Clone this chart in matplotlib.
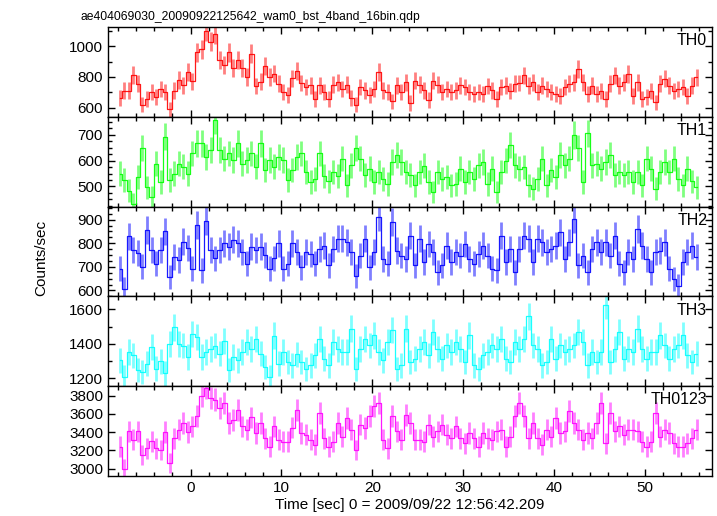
import numpy as np
import matplotlib
matplotlib.use('Agg')
import matplotlib.pyplot as plt
from matplotlib.ticker import MultipleLocator

plt.rcParams['font.family'] = ['Liberation Sans', 'DejaVu Sans']

# 0.5 s bins, first bin centred at -7.8 s
bin_width = 0.5
t_first = -7.8

th0 = [660, 711, 711, 811, 755, 620, 655, 700, 667, 722,
       700, 590, 711, 780, 744, 830, 770, 960, 980, 1100,
       1030, 1080, 910, 878, 960, 855, 910, 855, 800, 950,
       740, 767, 870, 800, 822, 755, 700, 680, 790, 840,
       760, 735, 745, 655, 745, 700, 655, 750, 765, 720,
       750, 665, 620, 735, 712, 680, 720, 830, 712, 700,
       640, 745, 700, 765, 630, 775, 750, 712, 650, 775,
       750, 700, 720, 700, 712, 745, 735, 700, 690, 700,
       690, 740, 712, 655, 735, 743, 710, 755, 760, 809,
       743, 765, 700, 743, 720, 700, 690, 678, 733, 755,
       765, 853, 765, 690, 743, 690, 710, 656, 755, 809,
       743, 765, 820, 678, 765, 656, 667, 710, 634, 755,
       787, 743, 710, 720, 733, 678, 743, 798]

th1 = [550, 524, 484, 432, 537, 648, 497, 458, 589, 517,
       693, 524, 550, 589, 576, 550, 628, 667, 667, 615,
       641, 759, 641, 608, 628, 602, 667, 589, 602, 628,
       576, 667, 563, 602, 576, 615, 602, 524, 563, 615,
       628, 556, 517, 530, 628, 540, 520, 556, 540, 608,
       504, 582, 648, 608, 543, 569, 517, 556, 530, 510,
       595, 621, 595, 556, 543, 504, 556, 580, 517, 478,
       556, 530, 537, 504, 510, 569, 517, 556, 530, 582,
       595, 510, 569, 478, 556, 600, 660, 582, 569, 575,
       504, 491, 530, 608, 504, 563, 537, 621, 582, 608,
       700, 648, 517, 706, 582, 589, 569, 595, 621, 543,
       556, 543, 556, 517, 556, 504, 608, 569, 491, 556,
       595, 556, 608, 530, 504, 569, 520, 497]

th2 = [693, 607, 829, 771, 757, 700, 857, 771, 714, 771,
       850, 657, 743, 729, 807, 779, 693, 879, 686, 893,
       771, 736, 771, 800, 786, 814, 800, 764, 714, 786,
       771, 786, 750, 693, 736, 800, 693, 714, 800, 764,
       699, 762, 755, 713, 776, 790, 706, 776, 818, 818,
       804, 762, 660, 748, 818, 699, 762, 910, 734, 713,
       889, 769, 748, 734, 832, 706, 818, 720, 797, 762,
       677, 706, 790, 720, 762, 748, 797, 734, 713, 755,
       790, 748, 692, 685, 832, 720, 776, 677, 776, 832,
       818, 720, 818, 804, 762, 776, 790, 846, 734, 804,
       903, 706, 748, 677, 776, 804, 762, 804, 748, 832,
       713, 677, 762, 734, 861, 790, 734, 677, 762, 769,
       804, 692, 649, 621, 720, 762, 790, 741]

th3 = [1305, 1210, 1352, 1333, 1248, 1238, 1286, 1381, 1257, 1300,
       1229, 1400, 1495, 1400, 1390, 1324, 1457, 1438, 1324, 1352,
       1371, 1390, 1343, 1419, 1248, 1324, 1305, 1352, 1410, 1371,
       1429, 1343, 1267, 1210, 1448, 1286, 1352, 1295, 1276, 1340,
       1295, 1256, 1275, 1333, 1430, 1314, 1275, 1411, 1372, 1353,
       1353, 1488, 1256, 1372, 1430, 1391, 1449, 1353, 1304, 1411,
       1480, 1256, 1275, 1488, 1295, 1314, 1372, 1411, 1333, 1469,
       1372, 1314, 1391, 1353, 1411, 1372, 1295, 1449, 1275, 1256,
       1333, 1353, 1391, 1372, 1430, 1314, 1295, 1410, 1372, 1430,
       1560, 1391, 1372, 1275, 1295, 1430, 1314, 1391, 1353, 1372,
       1391, 1469, 1411, 1275, 1353, 1295, 1353, 1623, 1295, 1372,
       1469, 1314, 1372, 1353, 1488, 1372, 1314, 1353, 1353, 1449,
       1391, 1314, 1372, 1391, 1449, 1333, 1295, 1343]

th0123 = [3242, 3000, 3407, 3316, 3407, 3150, 3224, 3300, 3224, 3205,
          3400, 3059, 3334, 3426, 3499, 3400, 3462, 3572, 3800, 3884,
          3774, 3756, 3664, 3720, 3499, 3536, 3646, 3462, 3426, 3560,
          3389, 3499, 3334, 3242, 3462, 3316, 3297, 3297, 3450, 3646,
          3389, 3371, 3316, 3260, 3609, 3334, 3242, 3297, 3499, 3352,
          3554, 3426, 3205, 3481, 3444, 3572, 3682, 3719, 3316, 3224,
          3572, 3407, 3316, 3591, 3499, 3316, 3316, 3297, 3481, 3352,
          3407, 3481, 3371, 3334, 3462, 3334, 3279, 3389, 3334, 3242,
          3389, 3334, 3316, 3407, 3426, 3242, 3352, 3572, 3719, 3572,
          3334, 3499, 3334, 3260, 3426, 3352, 3554, 3389, 3407, 3627,
          3499, 3426, 3316, 3389, 3334, 3499, 3719, 3279, 3609, 3407,
          3462, 3371, 3426, 3426, 3407, 3297, 3242, 3297, 3609, 3352,
          3426, 3389, 3279, 3242, 3242, 3279, 3334, 3426]

names = ['TH0', 'TH1', 'TH2', 'TH3', 'TH0123']
series = [th0, th1, th2, th3, th0123]
colors = ['#ff0000', '#00ff00', '#0000ff', '#00ffff', '#ff00ff']
ylims = [(540, 1125), (422, 770), (575, 955), (1155, 1675), (2920, 3902)]
majors = [200, 100, 100, 200, 200]
minors = [100, 25, 25, 100, 200]

t = t_first + bin_width * np.arange(len(th0))

fig, axes = plt.subplots(5, 1, figsize=(7.17, 5.16), dpi=100, sharex=True)
fig.subplots_adjust(left=0.1506, right=0.993, top=0.9477, bottom=0.0775, hspace=0)

for ax, name, vals, c, yl, mj, mn in zip(axes, names, series, colors, ylims, majors, minors):
    vals = np.array(vals, dtype=float)
    # bar half-lengths as seen in the picture (about sqrt(rate / 0.25 s))
    err = np.sqrt(vals / 0.25)
    ax.errorbar(t, vals, yerr=err, fmt='none', ecolor=c, elinewidth=2.0, alpha=0.5)
    ax.step(t, vals, where='mid', color=c, lw=0.9, alpha=0.9)
    ax.set_ylim(*yl)
    ax.set_xlim(-9.1, 57.4)
    ax.yaxis.set_major_locator(MultipleLocator(mj))
    ax.yaxis.set_minor_locator(MultipleLocator(mn))
    ax.xaxis.set_major_locator(MultipleLocator(10))
    ax.xaxis.set_minor_locator(MultipleLocator(2))
    ax.tick_params(which='both', direction='in', top=True, right=True, labelsize=11)
    ax.tick_params(which='major', length=5, width=1)
    ax.tick_params(which='minor', length=3, width=1)
    for s in ax.spines.values():
        s.set_linewidth(1)
    ax.text(0.992, 0.93, name, transform=ax.transAxes, ha='right', va='top', fontsize=11.5)

axes[0].set_title('ae404069030_20090922125642_wam0_bst_4band_16bin.qdp', loc='left',
                  fontsize=8.7, x=-0.045, pad=5)
axes[-1].set_xlabel('Time [sec] 0 = 2009/09/22 12:56:42.209', fontsize=11, labelpad=2)
fig.text(0.058, 0.5, 'Counts/sec', rotation=90, ha='center', va='center', fontsize=11)

fig.savefig('out.png', dpi=100)
